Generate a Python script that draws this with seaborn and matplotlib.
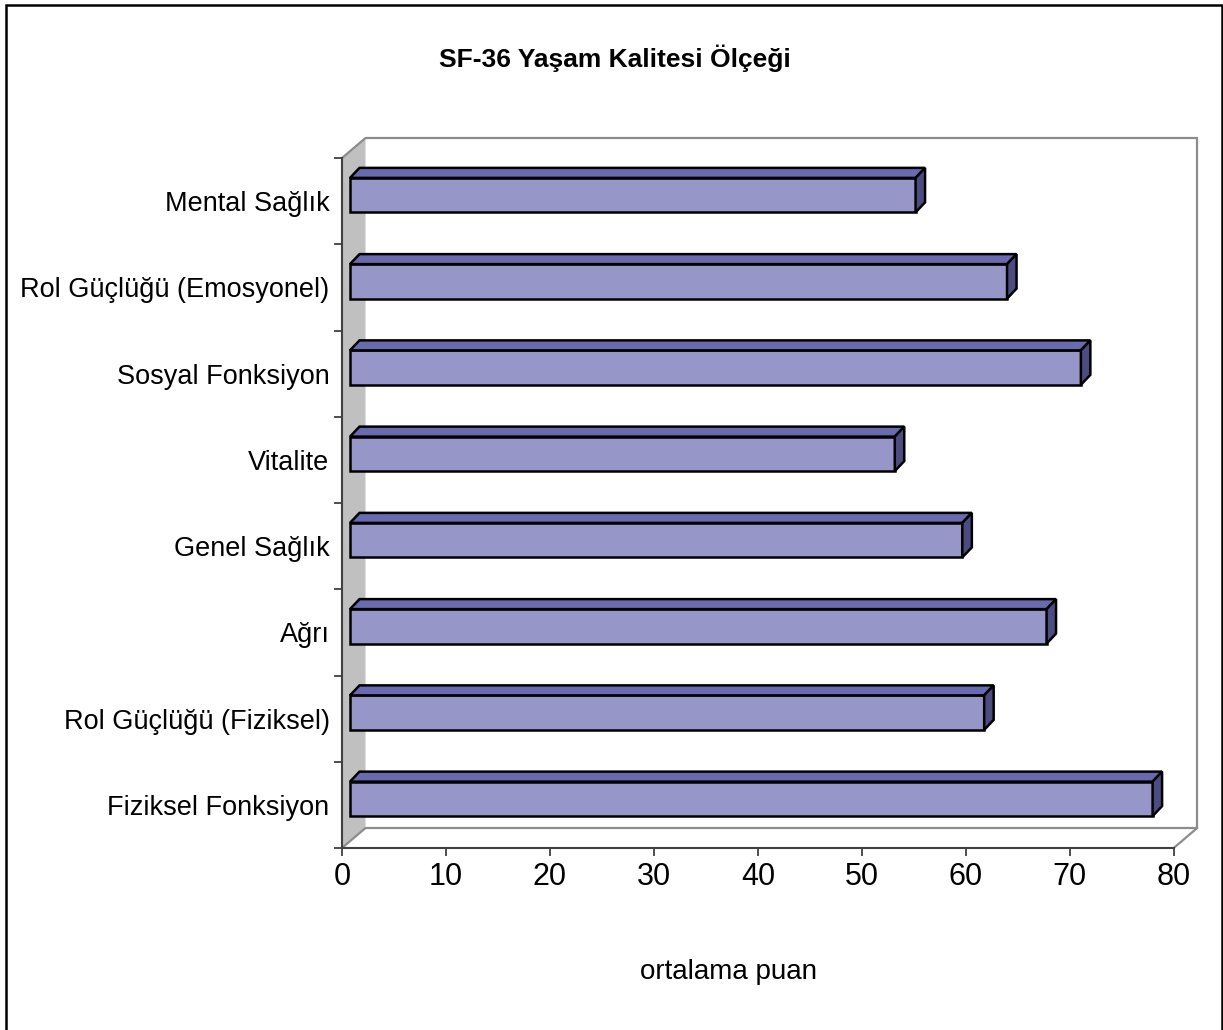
import matplotlib
matplotlib.use('Agg')
import matplotlib.pyplot as plt
import seaborn as sns
import pandas as pd
from matplotlib.patches import Polygon, Rectangle
from matplotlib.transforms import IdentityTransform, ScaledTranslation

# Data (top to bottom)
categories = ['Mental Sağlık', 'Rol Güçlüğü (Emosyonel)', 'Sosyal Fonksiyon', 'Vitalite',
              'Genel Sağlık', 'Ağrı', 'Rol Güçlüğü (Fiziksel)', 'Fiziksel Fonksiyon']
scores = [54.4, 63.2, 70.3, 52.4, 58.9, 67.0, 61.0, 77.2]
x_ticks = [0, 10, 20, 30, 40, 50, 60, 70, 80]

df = pd.DataFrame({'kategori': categories, 'puan': scores})

sns.set_theme(style='white')
plt.rcParams['font.family'] = ['Liberation Sans', 'DejaVu Sans']
plt.rcParams['text.color'] = 'black'

W, H, DPI = 1223, 1030, 100
fig = plt.figure(figsize=(W / DPI, H / DPI), dpi=DPI)
ax = fig.add_axes([342 / W, 1 - 848 / H, (1173.7 - 342) / W, (848 - 158) / H])

front_col = '#9696C8'
top_col = '#6A6AB0'
side_col = '#4C4C80'

sns.barplot(data=df, x='puan', y='kategori', orient='h', ax=ax, color=front_col,
            saturation=1, width=0.4, edgecolor='black', linewidth=1.8)
ax.set_xlim(0, 80)
ax.set_ylim(len(categories) - 0.5, -0.5)

# front edges of the 3D box
for s in ['top', 'right']:
    ax.spines[s].set_visible(False)
for s in ['left', 'bottom']:
    ax.spines[s].set_color('#404040')
    ax.spines[s].set_linewidth(1.5)
ax.set_xticks(x_ticks)
ax.set_xticklabels([str(t) for t in x_ticks])
ax.set_yticks(range(len(categories)))
ax.set_yticklabels(categories)
ax.set_yticks([i - 0.5 for i in range(len(categories) + 1)], minor=True)
ax.tick_params(axis='x', which='major', length=6, width=1.3, color='#404040',
               labelsize=22, labelcolor='black', pad=4, bottom=True)
ax.tick_params(axis='y', which='major', length=0, labelsize=19.5, labelcolor='black', pad=9)
ax.tick_params(axis='y', which='minor', length=6, width=1.3, color='#404040', left=True)
ax.set_xlabel('')
ax.set_ylabel('')
ax.patch.set_alpha(0)
ax.set_zorder(3)

# wall and floor of the 3D box, in display pixels
fig.canvas.draw()
D = (23.5, 20.0)  # depth vector, px
ident = IdentityTransform()
fl = ax.transAxes.transform((0, 0))
tl = ax.transAxes.transform((0, 1))
fr = ax.transAxes.transform((1, 0))
bk = lambda p: (p[0] + D[0], p[1] + D[1])
fig.add_artist(Polygon([tl, bk(tl), bk(fl), fl], closed=True, facecolor='#C0C0C0',
                       edgecolor='none', transform=ident, zorder=1))
grey = '#8C8C8C'
tr = (bk(fr)[0], bk(tl)[1])
for a, b in [(tl, bk(tl)), (fl, bk(fl)), (bk(tl), tr), (tr, bk(fr)),
             (bk(fl), bk(fr)), (fr, bk(fr))]:
    fig.add_artist(plt.Line2D([a[0], b[0]], [a[1], b[1]], color=grey, lw=1.6,
                              transform=ident, zorder=2))

# bars sit partly inside the depth: shift them, then add top and side faces
shift = ScaledTranslation(0.08, 0.06, fig.dpi_scale_trans)
bx, by = 9.5, 10.0
bars = list(ax.patches)
for p in bars:
    p.set_transform(p.get_data_transform() + shift)
    x, y, w, h = p.get_x(), p.get_y(), p.get_width(), p.get_height()
    pts = (p.get_data_transform()).transform([(x, y), (x + w, y + h)])
    xl, xr = pts[:, 0].min(), pts[:, 0].max()
    yb, yt = pts[:, 1].min(), pts[:, 1].max()
    fig.add_artist(Polygon([(xl, yt), (xr, yt), (xr + bx, yt + by), (xl + bx, yt + by)],
                           closed=True, facecolor=top_col, edgecolor='black', lw=1.8,
                           transform=ident, zorder=6))
    fig.add_artist(Polygon([(xr, yb), (xr, yt), (xr + bx, yt + by), (xr + bx, yb + by)],
                           closed=True, facecolor=side_col, edgecolor='black', lw=1.8,
                           transform=ident, zorder=6))

fig.text(615 / W, 1 - 58 / H, 'SF-36 Yaşam Kalitesi Ölçeği', ha='center', va='center',
         fontsize=19, fontweight='bold')
fig.text(729 / W, 1 - 972 / H, 'ortalama puan', ha='center', va='center', fontsize=20)

fig.add_artist(Rectangle((6 / W, -0.02), (1222 - 6) / W, 1.02 - 5 / H, transform=fig.transFigure,
                         fill=False, edgecolor='black', lw=1.8))

fig.savefig('out.png', dpi=DPI)
